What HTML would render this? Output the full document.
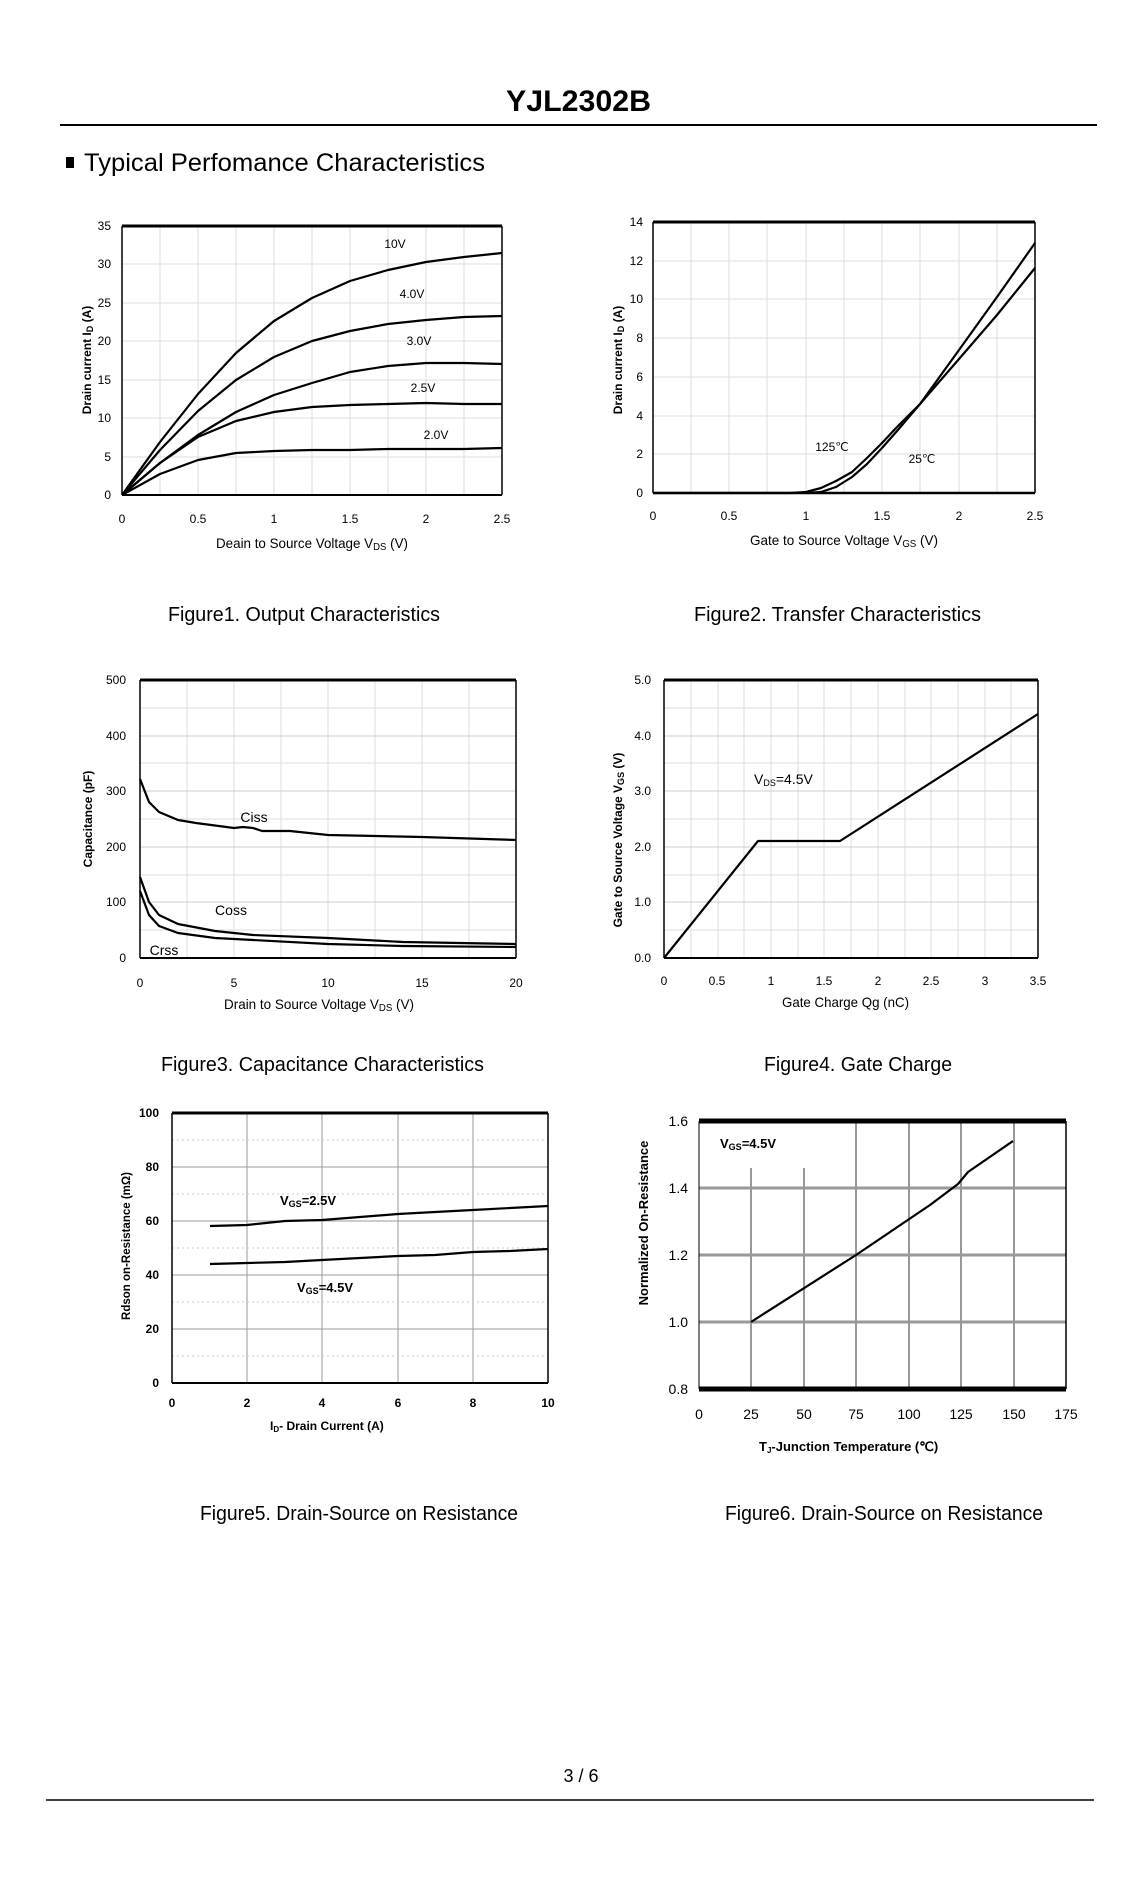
<!DOCTYPE html>
<html><head><meta charset="utf-8"><style>
body{margin:0;background:#fff}
svg{display:block}
text{font-family:"Liberation Sans",sans-serif;fill:#000}
.t{font-size:12px}
.g{stroke:#ddd;stroke-width:1}
.c{fill:none;stroke:#000;stroke-width:2.2;stroke-linejoin:round}
</style></head><body>
<svg width="1143" height="1883" viewBox="0 0 1143 1883" xmlns="http://www.w3.org/2000/svg">
<text x="506" y="111" font-size="30" font-weight="bold" textLength="145" lengthAdjust="spacingAndGlyphs">YJL2302B</text>
<line x1="60" y1="125" x2="1097" y2="125" stroke="#000" stroke-width="2"/>
<rect x="66" y="157" width="8" height="11"/>
<text x="84" y="171" font-size="25" textLength="401" lengthAdjust="spacingAndGlyphs">Typical Perfomance Characteristics</text>

<!-- Fig1 -->
<g>
<g class="g">
<line x1="160" y1="226" x2="160" y2="495"/><line x1="198" y1="226" x2="198" y2="495"/><line x1="236" y1="226" x2="236" y2="495"/><line x1="274" y1="226" x2="274" y2="495"/><line x1="312" y1="226" x2="312" y2="495"/><line x1="350" y1="226" x2="350" y2="495"/><line x1="388" y1="226" x2="388" y2="495"/><line x1="426" y1="226" x2="426" y2="495"/><line x1="464" y1="226" x2="464" y2="495"/>
<line x1="122" y1="457" x2="502" y2="457"/><line x1="122" y1="418" x2="502" y2="418"/><line x1="122" y1="380" x2="502" y2="380"/><line x1="122" y1="341" x2="502" y2="341"/><line x1="122" y1="303" x2="502" y2="303"/><line x1="122" y1="264" x2="502" y2="264"/>
</g>
<line x1="122" y1="226" x2="502" y2="226" stroke="#000" stroke-width="3"/>
<line x1="122" y1="226" x2="122" y2="495" stroke="#000" stroke-width="1.5"/>
<line x1="502" y1="226" x2="502" y2="495" stroke="#000" stroke-width="1.5"/>
<line x1="122" y1="495" x2="502" y2="495" stroke="#000" stroke-width="2"/>
<polyline class="c" points="122,495 160,442 198,394 236,353 274,321 312,298 350,281 388,270 426,262 464,257 502,253"/>
<polyline class="c" points="122,495 160,450 198,411 236,380 274,357 312,341 350,331 388,324 426,320 464,317 502,316"/>
<polyline class="c" points="122,495 160,463 198,435 236,412 274,395 312,383 350,372 388,366 426,363 464,363 502,364"/>
<polyline class="c" points="122,495 160,463 198,437 236,421 274,412 312,407 350,405 388,404 426,403 464,404 502,404"/>
<polyline class="c" points="122,495 160,474 198,460 236,453 274,451 312,450 350,450 388,449 426,449 464,449 502,448"/>
<g class="t" text-anchor="middle">
<text x="395" y="248">10V</text><text x="412" y="298">4.0V</text><text x="419" y="345">3.0V</text><text x="423" y="392">2.5V</text><text x="436" y="439">2.0V</text>
<text x="122" y="523">0</text><text x="198" y="523">0.5</text><text x="274" y="523">1</text><text x="350" y="523">1.5</text><text x="426" y="523">2</text><text x="502" y="523">2.5</text>
</g>
<g class="t" text-anchor="end">
<text x="111" y="499">0</text><text x="111" y="461">5</text><text x="111" y="422">10</text><text x="111" y="384">15</text><text x="111" y="345">20</text><text x="111" y="307">25</text><text x="111" y="268">30</text><text x="111" y="230">35</text>
</g>
<text x="216" y="548" font-size="14" textLength="192" lengthAdjust="spacingAndGlyphs">Deain to Source Voltage V<tspan font-size="10" dy="2">DS</tspan><tspan dy="-2"> (V)</tspan></text>
<text transform="translate(91,360) rotate(-90)" text-anchor="middle" font-size="12" font-weight="bold">Drain current I<tspan font-size="9" dy="2">D</tspan><tspan dy="-2"> (A)</tspan></text>
<text x="168" y="621" font-size="20" textLength="272" lengthAdjust="spacingAndGlyphs">Figure1.  Output Characteristics</text>
</g>

<!-- Fig2 -->
<g>
<g class="g">
<line x1="691" y1="222" x2="691" y2="493"/><line x1="729" y1="222" x2="729" y2="493"/><line x1="767" y1="222" x2="767" y2="493"/><line x1="806" y1="222" x2="806" y2="493"/><line x1="844" y1="222" x2="844" y2="493"/><line x1="882" y1="222" x2="882" y2="493"/><line x1="920" y1="222" x2="920" y2="493"/><line x1="959" y1="222" x2="959" y2="493"/><line x1="997" y1="222" x2="997" y2="493"/>
<line x1="653" y1="454" x2="1035" y2="454"/><line x1="653" y1="416" x2="1035" y2="416"/><line x1="653" y1="377" x2="1035" y2="377"/><line x1="653" y1="338" x2="1035" y2="338"/><line x1="653" y1="299" x2="1035" y2="299"/><line x1="653" y1="261" x2="1035" y2="261"/>
</g>
<line x1="653" y1="222" x2="1035" y2="222" stroke="#000" stroke-width="3"/>
<line x1="653" y1="222" x2="653" y2="493" stroke="#000" stroke-width="1.5"/>
<line x1="1035" y1="222" x2="1035" y2="493" stroke="#000" stroke-width="1.5"/>
<line x1="653" y1="493" x2="1035" y2="493" stroke="#000" stroke-width="2.5"/>
<polyline class="c" points="653,493 790,493 806,492 821,488 836,481 852,472 867,458 882,443 897,427 920,404 959,359 997,315 1035,268"/>
<polyline class="c" points="806,493 821,492 836,487 852,477 867,464 882,448 897,431 920,404 959,350 997,297 1035,243"/>
<g class="t" text-anchor="middle">
<text x="832" y="451">125℃</text><text x="922" y="463">25℃</text>
<text x="653" y="520">0</text><text x="729" y="520">0.5</text><text x="806" y="520">1</text><text x="882" y="520">1.5</text><text x="959" y="520">2</text><text x="1035" y="520">2.5</text>
</g>
<g class="t" text-anchor="end">
<text x="643" y="497">0</text><text x="643" y="458">2</text><text x="643" y="420">4</text><text x="643" y="381">6</text><text x="643" y="342">8</text><text x="643" y="303">10</text><text x="643" y="265">12</text><text x="643" y="226">14</text>
</g>
<text x="750" y="545" font-size="14" textLength="188" lengthAdjust="spacingAndGlyphs">Gate to Source Voltage V<tspan font-size="10" dy="2">GS</tspan><tspan dy="-2"> (V)</tspan></text>
<text transform="translate(622,360) rotate(-90)" text-anchor="middle" font-size="12" font-weight="bold">Drain current I<tspan font-size="9" dy="2">D</tspan><tspan dy="-2"> (A)</tspan></text>
<text x="694" y="621" font-size="20" textLength="287" lengthAdjust="spacingAndGlyphs">Figure2.  Transfer Characteristics</text>
</g>

<!-- Fig3 -->
<g>
<g class="g">
<line x1="187" y1="680" x2="187" y2="958"/><line x1="234" y1="680" x2="234" y2="958"/><line x1="281" y1="680" x2="281" y2="958"/><line x1="328" y1="680" x2="328" y2="958"/><line x1="375" y1="680" x2="375" y2="958"/><line x1="422" y1="680" x2="422" y2="958"/><line x1="469" y1="680" x2="469" y2="958"/>
<line x1="140" y1="930" x2="516" y2="930"/><line x1="140" y1="902" x2="516" y2="902" stroke="#ccc"/><line x1="140" y1="875" x2="516" y2="875"/><line x1="140" y1="847" x2="516" y2="847" stroke="#ccc"/><line x1="140" y1="819" x2="516" y2="819"/><line x1="140" y1="791" x2="516" y2="791" stroke="#ccc"/><line x1="140" y1="763" x2="516" y2="763"/><line x1="140" y1="736" x2="516" y2="736" stroke="#ccc"/><line x1="140" y1="708" x2="516" y2="708"/>
</g>
<line x1="140" y1="680" x2="516" y2="680" stroke="#000" stroke-width="3"/>
<line x1="140" y1="680" x2="140" y2="958" stroke="#000" stroke-width="1.5"/>
<line x1="516" y1="680" x2="516" y2="958" stroke="#000" stroke-width="1.5"/>
<line x1="140" y1="958" x2="516" y2="958" stroke="#000" stroke-width="2"/>
<polyline class="c" points="140,779 149,802 159,812 178,820 196,823 234,828 243,827 253,828 262,831 290,831 328,835 422,837 516,840"/>
<polyline class="c" points="140,877 149,902 159,915 178,924 215,931 253,935 328,938 403,942 516,944"/>
<polyline class="c" points="140,891 149,915 159,926 178,933 215,938 253,940 328,944 403,946 516,947"/>
<g class="t" text-anchor="middle">
<text x="254" y="822" font-size="14">Ciss</text><text x="231" y="915" font-size="14">Coss</text><text x="164" y="955" font-size="14">Crss</text>
<text x="140" y="987">0</text><text x="234" y="987">5</text><text x="328" y="987">10</text><text x="422" y="987">15</text><text x="516" y="987">20</text>
</g>
<g class="t" text-anchor="end">
<text x="126" y="962">0</text><text x="126" y="906">100</text><text x="126" y="851">200</text><text x="126" y="795">300</text><text x="126" y="740">400</text><text x="126" y="684">500</text>
</g>
<text x="224" y="1009" font-size="14" textLength="190" lengthAdjust="spacingAndGlyphs">Drain to Source Voltage V<tspan font-size="10" dy="2">DS</tspan><tspan dy="-2"> (V)</tspan></text>
<text transform="translate(92,819) rotate(-90)" text-anchor="middle" font-size="12" font-weight="bold">Capacitance (pF)</text>
<text x="161" y="1071" font-size="20" textLength="323" lengthAdjust="spacingAndGlyphs">Figure3.  Capacitance Characteristics</text>
</g>

<!-- Fig4 -->
<g>
<g class="g">
<line x1="691" y1="680" x2="691" y2="958"/><line x1="718" y1="680" x2="718" y2="958"/><line x1="744" y1="680" x2="744" y2="958"/><line x1="771" y1="680" x2="771" y2="958"/><line x1="798" y1="680" x2="798" y2="958"/><line x1="824" y1="680" x2="824" y2="958"/><line x1="851" y1="680" x2="851" y2="958"/><line x1="878" y1="680" x2="878" y2="958"/><line x1="905" y1="680" x2="905" y2="958"/><line x1="931" y1="680" x2="931" y2="958"/><line x1="958" y1="680" x2="958" y2="958"/><line x1="985" y1="680" x2="985" y2="958"/><line x1="1011" y1="680" x2="1011" y2="958"/>
<line x1="664" y1="930" x2="1038" y2="930"/><line x1="664" y1="902" x2="1038" y2="902" stroke="#ccc"/><line x1="664" y1="875" x2="1038" y2="875"/><line x1="664" y1="847" x2="1038" y2="847" stroke="#ccc"/><line x1="664" y1="819" x2="1038" y2="819"/><line x1="664" y1="791" x2="1038" y2="791" stroke="#ccc"/><line x1="664" y1="763" x2="1038" y2="763"/><line x1="664" y1="736" x2="1038" y2="736" stroke="#ccc"/><line x1="664" y1="708" x2="1038" y2="708"/>
</g>
<line x1="664" y1="680" x2="1038" y2="680" stroke="#000" stroke-width="3"/>
<line x1="664" y1="680" x2="664" y2="958" stroke="#000" stroke-width="1.5"/>
<line x1="1038" y1="680" x2="1038" y2="958" stroke="#000" stroke-width="1.5"/>
<line x1="664" y1="958" x2="1038" y2="958" stroke="#000" stroke-width="2"/>
<polyline class="c" points="664,958 758,841 840,841 1038,714"/>
<text x="754" y="784" font-size="14">V<tspan font-size="9" dy="2">DS</tspan><tspan dy="-2">=4.5V</tspan></text>
<g class="t" text-anchor="middle">
<text x="664" y="985">0</text><text x="717" y="985">0.5</text><text x="771" y="985">1</text><text x="824" y="985">1.5</text><text x="878" y="985">2</text><text x="931" y="985">2.5</text><text x="985" y="985">3</text><text x="1038" y="985">3.5</text>
</g>
<g class="t" text-anchor="end">
<text x="651" y="962">0.0</text><text x="651" y="906">1.0</text><text x="651" y="851">2.0</text><text x="651" y="795">3.0</text><text x="651" y="740">4.0</text><text x="651" y="684">5.0</text>
</g>
<text x="782" y="1007" font-size="14" textLength="127" lengthAdjust="spacingAndGlyphs">Gate Charge Qg (nC)</text>
<text transform="translate(622,840) rotate(-90)" text-anchor="middle" font-size="12" font-weight="bold">Gate to  Source  Voltage V<tspan font-size="9" dy="2">GS</tspan><tspan dy="-2"> (V)</tspan></text>
<text x="764" y="1071" font-size="20" textLength="188" lengthAdjust="spacingAndGlyphs">Figure4. Gate Charge</text>
</g>

<!-- Fig5 -->
<g>
<g stroke="#999" stroke-width="1">
<line x1="247" y1="1113" x2="247" y2="1383"/><line x1="322" y1="1113" x2="322" y2="1383"/><line x1="398" y1="1113" x2="398" y2="1383"/><line x1="473" y1="1113" x2="473" y2="1383"/>
<line x1="172" y1="1329" x2="548" y2="1329"/><line x1="172" y1="1275" x2="548" y2="1275"/><line x1="172" y1="1221" x2="548" y2="1221"/><line x1="172" y1="1167" x2="548" y2="1167"/>
</g>
<g stroke="#ccc" stroke-width="1" stroke-dasharray="2,3">
<line x1="172" y1="1356" x2="548" y2="1356"/><line x1="172" y1="1302" x2="548" y2="1302"/><line x1="172" y1="1248" x2="548" y2="1248"/><line x1="172" y1="1194" x2="548" y2="1194"/><line x1="172" y1="1140" x2="548" y2="1140"/>
</g>
<line x1="172" y1="1113" x2="548" y2="1113" stroke="#000" stroke-width="3"/>
<line x1="172" y1="1113" x2="172" y2="1383" stroke="#000" stroke-width="1.5"/>
<line x1="548" y1="1113" x2="548" y2="1383" stroke="#000" stroke-width="1.5"/>
<line x1="172" y1="1383" x2="548" y2="1383" stroke="#000" stroke-width="2"/>
<polyline class="c" points="210,1226 247,1225 285,1221 322,1220 360,1217 398,1214 435,1212 473,1210 510,1208 548,1206"/>
<polyline class="c" points="210,1264 247,1263 285,1262 322,1260 360,1258 398,1256 435,1255 473,1252 510,1251 548,1249"/>
<text x="280" y="1205" font-size="13" font-weight="bold">V<tspan font-size="9" dy="2">GS</tspan><tspan dy="-2">=2.5V</tspan></text>
<text x="297" y="1292" font-size="13" font-weight="bold">V<tspan font-size="9" dy="2">GS</tspan><tspan dy="-2">=4.5V</tspan></text>
<g class="t" text-anchor="middle" font-weight="bold">
<text x="172" y="1407">0</text><text x="247" y="1407">2</text><text x="322" y="1407">4</text><text x="398" y="1407">6</text><text x="473" y="1407">8</text><text x="548" y="1407">10</text>
</g>
<g class="t" text-anchor="end" font-weight="bold">
<text x="159" y="1387">0</text><text x="159" y="1333">20</text><text x="159" y="1279">40</text><text x="159" y="1225">60</text><text x="159" y="1171">80</text><text x="159" y="1117">100</text>
</g>
<text x="270" y="1430" font-size="12" font-weight="bold">I<tspan font-size="8" dy="2">D</tspan><tspan dy="-2">- Drain Current (A)</tspan></text>
<text transform="translate(130,1246) rotate(-90)" text-anchor="middle" font-size="11.5" font-weight="bold">Rdson on-Resistance (mΩ)</text>
<text x="200" y="1520" font-size="20" textLength="318" lengthAdjust="spacingAndGlyphs">Figure5. Drain-Source on Resistance</text>
</g>

<!-- Fig6 -->
<g>
<g stroke="#999" stroke-width="2">
<line x1="751" y1="1168" x2="751" y2="1389"/><line x1="804" y1="1168" x2="804" y2="1389"/><line x1="856" y1="1121" x2="856" y2="1389"/><line x1="909" y1="1121" x2="909" y2="1389"/><line x1="961" y1="1121" x2="961" y2="1389"/><line x1="1014" y1="1121" x2="1014" y2="1389"/>
<line x1="699" y1="1322" x2="1066" y2="1322" stroke-width="3"/><line x1="699" y1="1255" x2="1066" y2="1255" stroke-width="3"/><line x1="699" y1="1188" x2="1066" y2="1188" stroke-width="3"/>
</g>
<line x1="699" y1="1121" x2="1066" y2="1121" stroke="#000" stroke-width="5"/>
<line x1="699" y1="1389" x2="1066" y2="1389" stroke="#000" stroke-width="5"/>
<line x1="699" y1="1121" x2="699" y2="1389" stroke="#000" stroke-width="1"/>
<line x1="1066" y1="1121" x2="1066" y2="1389" stroke="#000" stroke-width="1.5"/>
<polyline class="c" stroke-width="4" points="751,1322 856,1255 930,1205 958,1184 968,1172 1013,1141"/>
<text x="720" y="1148" font-size="13" font-weight="bold">V<tspan font-size="9" dy="2">GS</tspan><tspan dy="-2">=4.5V</tspan></text>
<g font-size="14" text-anchor="middle" fill="#444">
<text x="699" y="1419" fill="#444">0</text><text x="751" y="1419" fill="#444">25</text><text x="804" y="1419" fill="#444">50</text><text x="856" y="1419" fill="#444">75</text><text x="909" y="1419" fill="#444">100</text><text x="961" y="1419" fill="#444">125</text><text x="1014" y="1419" fill="#444">150</text><text x="1066" y="1419" fill="#444">175</text>
</g>
<g font-size="14" text-anchor="end">
<text x="688" y="1394" fill="#444">0.8</text><text x="688" y="1327" fill="#444">1.0</text><text x="688" y="1260" fill="#444">1.2</text><text x="688" y="1193" fill="#444">1.4</text><text x="688" y="1126" fill="#444">1.6</text>
</g>
<text x="759" y="1451" font-size="13" font-weight="bold" fill="#222">T<tspan font-size="8" dy="2">J</tspan><tspan dy="-2">-Junction Temperature (℃)</tspan></text>
<text transform="translate(648,1223) rotate(-90)" text-anchor="middle" font-size="13" font-weight="bold" fill="#222">Normalized On-Resistance</text>
<text x="725" y="1520" font-size="20" textLength="318" lengthAdjust="spacingAndGlyphs">Figure6. Drain-Source on Resistance</text>
</g>

<text x="581" y="1782" font-size="18" text-anchor="middle">3 / 6</text>
<line x1="46" y1="1800" x2="1094" y2="1800" stroke="#000" stroke-width="1.5"/>
</svg>
</body></html>
